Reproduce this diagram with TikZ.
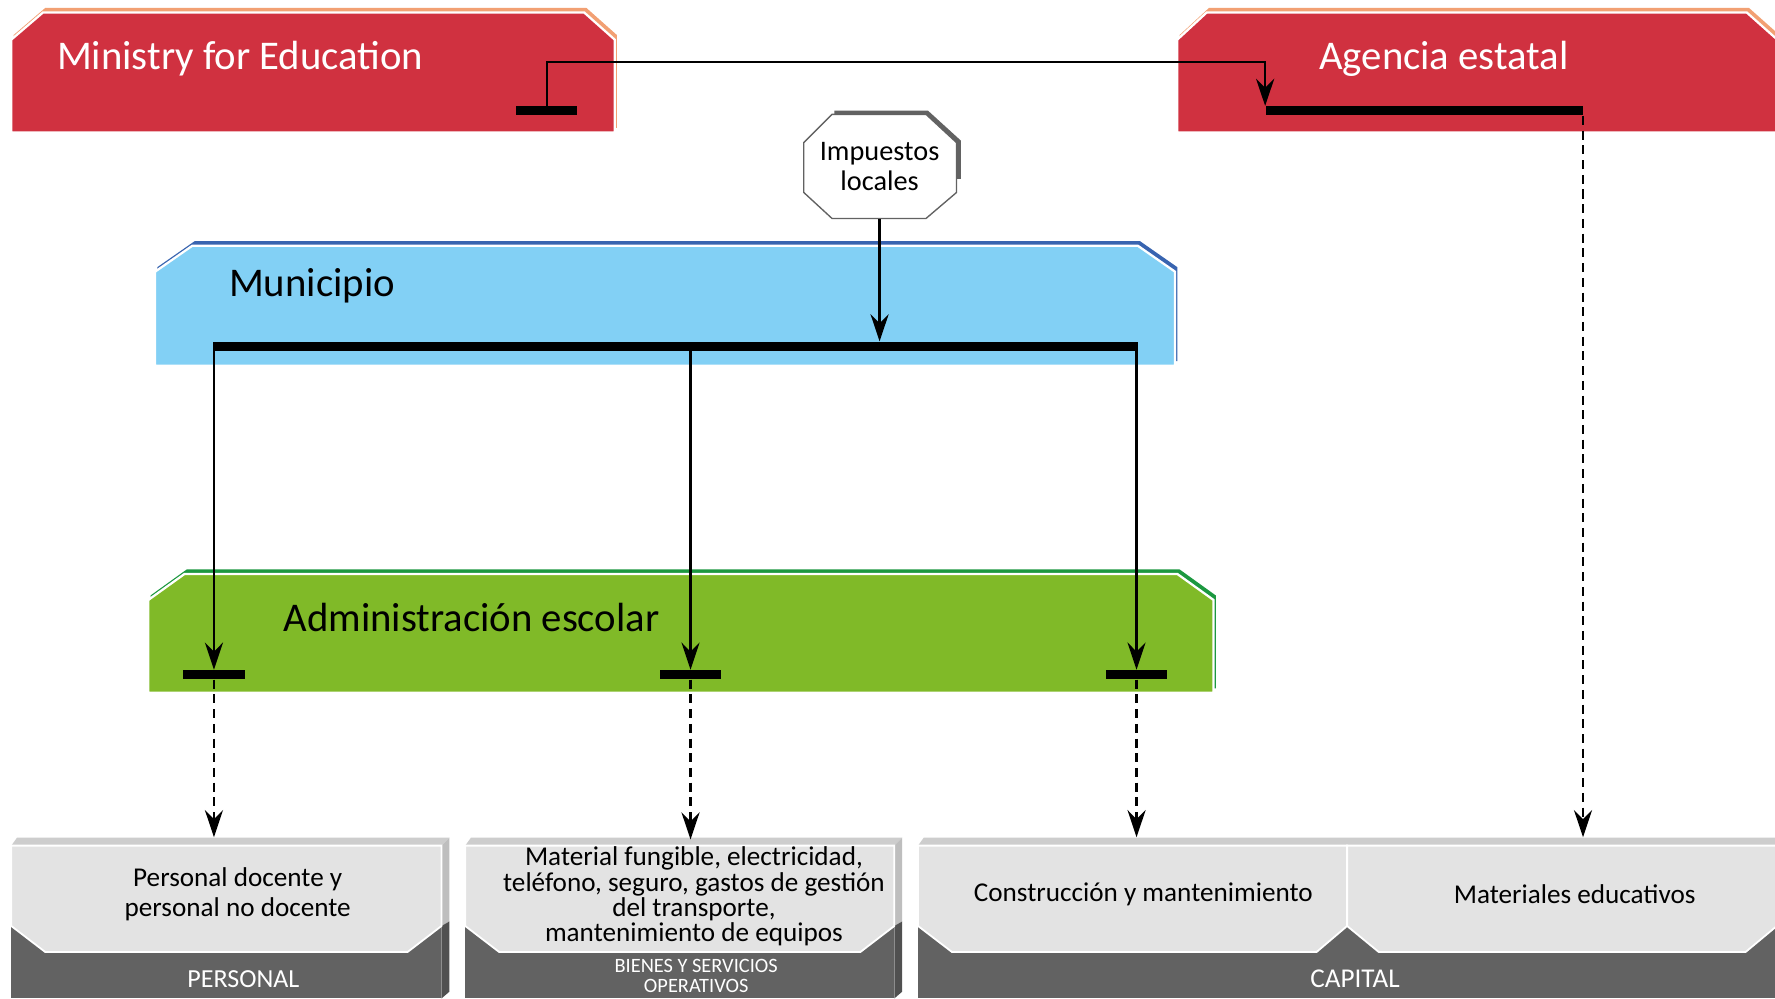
\documentclass[tikz,border=0pt]{standalone}
\usepackage{fontspec}
\setmainfont{Carlito}
\usetikzlibrary{arrows.meta,positioning,calc}

\begin{document}
\begin{tikzpicture}[
    x=0.5pt, y=-0.5pt,
    bar/.style={fill=black, inner sep=0pt, minimum height=4pt},
    flow/.style={line width=1pt, -{Stealth[length=12pt, width=8pt, inset=4pt]}},
    dflow/.style={flow, line width=1.2pt, dash pattern=on 4pt off 2.5pt},
    title/.style={font=\fontsize{18}{21}\selectfont, anchor=base west, inner sep=0pt},
    item/.style={font=\fontsize{12}{13}\selectfont, align=center, minimum height=50pt, inner sep=0pt},
    tag/.style={text=white, align=center, inner sep=0pt},
    face/.style={fill=facec, draw=white, line width=0.8pt},
    panel/.style={draw=white, line width=1pt}
  ]
    \definecolor{minc}{RGB}{208,49,64}
    \definecolor{minedge}{RGB}{242,160,115}
    \definecolor{munc}{RGB}{130,208,245}
    \definecolor{munedge}{RGB}{56,100,176}
    \definecolor{admc}{RGB}{128,186,40}
    \definecolor{admedge}{RGB}{28,152,64}
    \definecolor{facec}{RGB}{227,227,227}
    \definecolor{darkc}{RGB}{98,98,98}
    \definecolor{bevc}{RGB}{205,205,205}
    \definecolor{sidec}{RGB}{190,190,190}
    \definecolor{sided}{RGB}{80,80,80}

    \useasboundingbox[fill=white] (0,0) rectangle (1568,882);

    % coloured panels
    \fill[minedge] (12,31) -- (40,7) -- (518,7) -- (545,31) -- (545,113) -- (12,113) -- cycle;
    \filldraw[panel, fill=minc] (10,117) -- (10,35) -- (38,11) -- (516,11) -- (543,35) -- (543,117) -- cycle;
    \fill[minedge] (1042,31) -- (1068,7) -- (1545,7) -- (1572,31) -- (1572,113) -- (1042,113) -- cycle;
    \filldraw[panel, fill=minc] (1040,117) -- (1040,35) -- (1066,11) -- (1543,11) -- (1570,35) -- (1570,117) -- cycle;
    \fill[munedge] (139,236) -- (172,213) -- (1007,213) -- (1040,236) -- (1040,319) -- (139,319) -- cycle;
    \filldraw[panel, fill=munc] (137,323) -- (137,240) -- (170,217) -- (1005,217) -- (1038,240) -- (1038,323) -- cycle;
    \fill[admedge] (133,526) -- (165,503) -- (1042,503) -- (1074,526) -- (1074,608) -- (133,608) -- cycle;
    \filldraw[panel, fill=admc] (131,612) -- (131,530) -- (163,507) -- (1040,507) -- (1072,530) -- (1072,612) -- cycle;

    % octagon
    \draw[line width=1.8pt, color=darkc] (737,99.5) -- (819,99.5) -- (847,125) -- (847,158);
    \filldraw[fill=white, draw=darkc, line width=0.6pt] (735,101) -- (818,101) -- (845,126) -- (845,170) -- (818,193) -- (735,193) -- (710,170) -- (710,126) -- cycle;

    % grey boxes
    \fill[darkc] (10,812) rectangle (390,882);
    \fill[bevc] (10,747) -- (15,740) -- (397,740) -- (390,747) -- cycle;
    \fill[sidec] (390,747) -- (397,740) -- (397,814) -- (390,818) -- cycle;
    \fill[sided] (390,818) -- (397,814) -- (397,876) -- (390,882) -- cycle;
    \draw[face] (10,747) -- (390,747) -- (390,818) -- (360,841) -- (40,841) -- (10,818) -- cycle;

    \fill[darkc] (411,812) rectangle (790,882);
    \fill[bevc] (411,747) -- (416,740) -- (797,740) -- (790,747) -- cycle;
    \fill[sidec] (790,747) -- (797,740) -- (797,814) -- (790,818) -- cycle;
    \fill[sided] (790,818) -- (797,814) -- (797,876) -- (790,882) -- cycle;
    \draw[face] (411,747) -- (790,747) -- (790,818) -- (760,841) -- (441,841) -- (411,818) -- cycle;

    \fill[darkc] (811,812) rectangle (1570,882);
    \fill[bevc] (811,747) -- (816,740) -- (1570,740) -- (1570,747) -- cycle;
    \draw[face] (811,747) -- (1190,747) -- (1190,818) -- (1163,841) -- (841,841) -- (811,818) -- cycle;
    \draw[face] (1190,747) -- (1572,747) -- (1572,816) -- (1542,841) -- (1218,841) -- (1190,818) -- cycle;

    \node[title, text=white] (min) at (50,61) {Ministry for Education};
    \node[title, text=white] (age) at (1165,61) {Agencia estatal};
    \node[title] (mun) at (202,262) {Municipio};
    \node[title] (adm) at (250,558) {Administración escolar};
    \node[font=\fontsize{12.5}{13}\selectfont, align=center, minimum width=67.5pt, minimum height=46pt, inner sep=0pt] (imp) at (777,147) {Impuestos\\locales};

    \node[bar, minimum width=27pt] (minbar) at (483,98) {};
    \node[bar, minimum width=140pt] (agbar) at (1258,98) {};
    \node[bar, minimum width=408.5pt] (munbar) at (596.5,306) {};
    \node[bar, minimum width=27pt] (admbar1) at (189,596) {};
    \node[bar, minimum width=27pt] (admbar2) at (610,596) {};
    \node[bar, minimum width=27pt] (admbar3) at (1004,596) {};

    \node[item] (pers) at (210,790) {Personal docente y\\personal no docente};
    \node[item, font=\fontsize{12}{11.2}\selectfont] (bien) at (613,792) {Material fungible, electricidad,\\teléfono, seguro, gastos de gestión\\del transporte,\\mantenimiento de equipos};
    \node[item] (cons) at (1010,790) {Construcción y mantenimiento};
    \node[item] (mat) at (1391,790) {Materiales educativos};
    \node[tag, font=\fontsize{11.5}{12}\selectfont] (lpers) at (215,865) {PERSONAL};
    \node[tag, font=\fontsize{9}{9}\selectfont] (lbien) at (615,862) {BIENES Y SERVICIOS\\OPERATIVOS};
    \node[tag, font=\fontsize{12}{12}\selectfont] (lcap) at (1197,865) {CAPITAL};

    \draw[flow] (minbar.north) -- ++(0,-39) -| (agbar.north west);
    \draw[dflow] (agbar.south east) -- (agbar.south east |- mat.north);
    \draw[flow] (imp.south) -- (imp.south |- munbar.north);
    \draw[flow] (admbar1.north |- munbar.south) -- (admbar1.north);
    \draw[flow] (admbar2.north |- munbar.south) -- (admbar2.north);
    \draw[flow] (admbar3.north |- munbar.south) -- (admbar3.north);
    \draw[dflow] (admbar1.south) -- (admbar1.south |- pers.north);
    \draw[dflow] (admbar2.south) -- (admbar2.south |- bien.north);
    \draw[dflow] (admbar3.south) -- (admbar3.south |- cons.north);
  \end{tikzpicture}
\end{document}
